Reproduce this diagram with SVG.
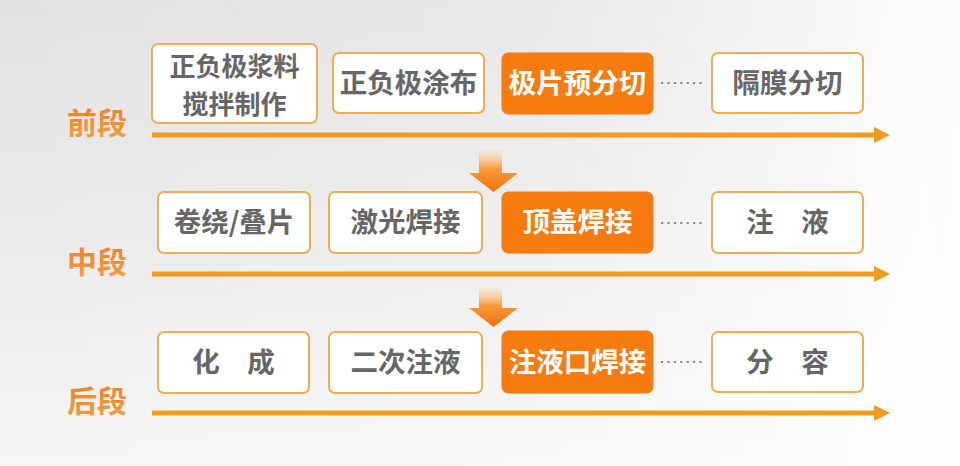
<svg xmlns="http://www.w3.org/2000/svg" width="960" height="466" viewBox="0 0 960 466">
<defs>
<linearGradient id="bgv" x1="0" y1="0" x2="0" y2="1">
<stop offset="0" stop-color="#e2e2e2"/>
<stop offset="0.45" stop-color="#e9e9e9"/>
<stop offset="1" stop-color="#f6f6f6"/>
</linearGradient>
<linearGradient id="bgh" x1="0" y1="0" x2="1" y2="0">
<stop offset="0" stop-color="#ffffff" stop-opacity="0"/>
<stop offset="0.55" stop-color="#ffffff" stop-opacity="0.2"/>
<stop offset="1" stop-color="#ffffff" stop-opacity="0.9"/>
</linearGradient>
<linearGradient id="down" x1="0" y1="0" x2="0" y2="1">
<stop offset="0" stop-color="#fbd9b0" stop-opacity="0.3"/>
<stop offset="0.45" stop-color="#f79a3a"/>
<stop offset="1" stop-color="#f46f0a"/>
</linearGradient>
<linearGradient id="lab" x1="0" y1="0" x2="0" y2="1">
<stop offset="0" stop-color="#f07a22"/>
<stop offset="1" stop-color="#f4a048"/>
</linearGradient>
<marker id="ah" viewBox="0 0 16 16" refX="1" refY="8" markerWidth="16" markerHeight="16" markerUnits="userSpaceOnUse" orient="auto">
<path d="M0,0 L16,8 L0,16 Z" fill="#f29b21"/>
</marker>
</defs>
<style>
.box{fill:#ffffff;stroke:#eaae55;stroke-width:2}
.hot{fill:#f77b0e;stroke:#f77b0e;stroke-width:1}
.t{font-family:"Noto Sans CJK SC","Noto Sans",sans-serif;font-weight:bold;font-size:27.5px;fill:#666666;text-anchor:middle}
.t2{font-size:26px}
.tw{fill:#ffffff}
.lab{font-family:"Noto Sans CJK SC","Noto Sans",sans-serif;font-weight:bold;font-size:30px;fill:url(#lab)}
.line{stroke:#f29b21;stroke-width:5;fill:none;marker-end:url(#ah)}
.dots{stroke:#8a8a8a;stroke-width:2.2;stroke-dasharray:2.2 4.2;fill:none}
</style>
<rect x="0" y="0" width="960" height="466" fill="url(#bgv)"/>
<rect x="0" y="0" width="960" height="466" fill="url(#bgh)"/>
<rect x="855" y="0" width="75" height="466" fill="#ffffff" opacity="0.35"/>

<g id="connectors">
<line class="line" x1="152" y1="135" x2="875" y2="135"/>
<line class="line" x1="152" y1="274" x2="875" y2="274"/>
<line class="line" x1="152" y1="413" x2="875" y2="413"/>
<path d="M661,83 L704,83" class="dots"/>
<path d="M661,223 L704,223" class="dots"/>
<path d="M661,362 L704,362" class="dots"/>
<path d="M479,150 L502,150 L502,173 L518,173 L493.5,192 L469,173 L479,173 Z" fill="url(#down)"/>
<path d="M479,288 L502,288 L502,308 L518,308 L493.5,327 L469,308 L479,308 Z" fill="url(#down)"/>
</g>

<g id="label-front"><text class="lab" x="67" y="134">前段</text></g>
<g id="label-mid"><text class="lab" x="67" y="273">中段</text></g>
<g id="label-back"><text class="lab" x="67" y="412">后段</text></g>

<g id="n-slurry">
<rect class="box" x="152" y="44" width="165" height="79" rx="6"/>
<text class="t t2" x="234.5" y="75.5">正负极浆料</text>
<text class="t t2" x="234.5" y="113.5">搅拌制作</text>
</g>
<g id="n-coating">
<rect class="box" x="333" y="53" width="151" height="60" rx="6"/>
<text class="t" x="408.5" y="93">正负极涂布</text>
</g>
<g id="n-precut">
<rect class="hot" x="502" y="53" width="151" height="61" rx="6"/>
<text class="t tw" x="577.5" y="93">极片预分切</text>
</g>
<g id="n-sepcut">
<rect class="box" x="712" y="53" width="151" height="60" rx="6"/>
<text class="t" x="787.5" y="93">隔膜分切</text>
</g>

<g id="n-winding">
<rect class="box" x="158" y="192" width="152" height="61" rx="6"/>
<text class="t" x="234" y="232">卷绕/叠片</text>
</g>
<g id="n-laser">
<rect class="box" x="329" y="192" width="153" height="61" rx="6"/>
<text class="t" x="405.5" y="232">激光焊接</text>
</g>
<g id="n-topcap">
<rect class="hot" x="502" y="192" width="151" height="61" rx="6"/>
<text class="t tw" x="577.5" y="232">顶盖焊接</text>
</g>
<g id="n-inject">
<rect class="box" x="712" y="192" width="151" height="61" rx="6"/>
<text class="t" x="787.5" y="232">注　液</text>
</g>

<g id="n-formation">
<rect class="box" x="158" y="332" width="151" height="61" rx="6"/>
<text class="t" x="233.5" y="372">化　成</text>
</g>
<g id="n-reinject">
<rect class="box" x="329" y="332" width="153" height="61" rx="6"/>
<text class="t" x="405.5" y="372">二次注液</text>
</g>
<g id="n-portweld">
<rect class="hot" x="502" y="331" width="151" height="62" rx="6"/>
<text class="t tw" x="577.5" y="372">注液口焊接</text>
</g>
<g id="n-grading">
<rect class="box" x="712" y="332" width="151" height="60" rx="6"/>
<text class="t" x="787.5" y="372">分　容</text>
</g>
</svg>
